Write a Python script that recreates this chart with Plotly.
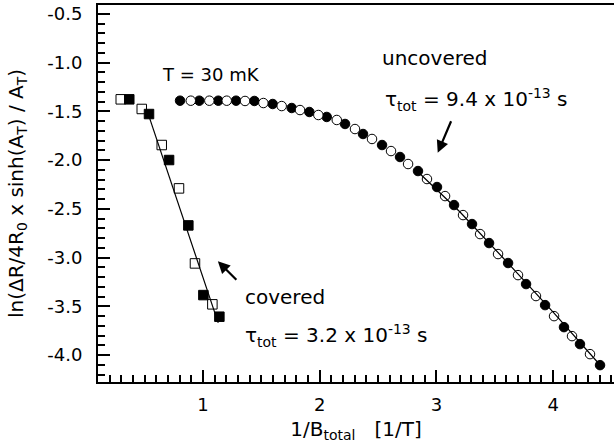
import plotly.graph_objects as go

# --- data ---
unc_filled_x = [0.803, 0.968, 1.131, 1.283, 1.440, 1.597, 1.760, 1.911, 2.060, 2.217, 2.371, 2.534,
                2.688, 2.842, 3.005, 3.151, 3.305, 3.451, 3.614, 3.768, 3.931, 4.093, 4.230, 4.402]
unc_filled_y = [-1.390, -1.390, -1.390, -1.390, -1.393, -1.424, -1.465, -1.506, -1.557, -1.629, -1.732, -1.845,
                -1.968, -2.112, -2.276, -2.461, -2.656, -2.851, -3.056, -3.272, -3.488, -3.714, -3.888, -4.104]
unc_open_x = [0.895, 1.054, 1.203, 1.360, 1.517, 1.674, 1.831, 1.988, 2.146, 2.302, 2.448, 2.611,
              2.757, 2.919, 3.074, 3.228, 3.374, 3.528, 3.699, 3.853, 4.008, 4.162, 4.316]
unc_open_y = [-1.390, -1.390, -1.390, -1.393, -1.414, -1.445, -1.486, -1.537, -1.588, -1.681, -1.783, -1.907,
              -2.040, -2.194, -2.369, -2.564, -2.759, -2.964, -3.180, -3.395, -3.601, -3.806, -3.991]
unc_fit_x = [2.85, 3.2, 3.6, 4.0, 4.40]
unc_fit_y = [-2.13, -2.53, -3.04, -3.56, -4.10]

cov_open_x = [0.295, 0.475, 0.646, 0.794, 0.931, 1.080]
cov_open_y = [-1.376, -1.475, -1.845, -2.290, -3.060, -3.480]
cov_filled_x = [0.368, 0.537, 0.709, 0.874, 1.003, 1.140]
cov_filled_y = [-1.376, -1.527, -1.999, -2.670, -3.385, -3.607]
cov_fit_x = [0.52, 1.13]
cov_fit_y = [-1.49, -3.67]

x_tick_vals = [1, 2, 3, 4]
y_tick_vals = [-0.5, -1.0, -1.5, -2.0, -2.5, -3.0, -3.5, -4.0]
y_tick_text = ["-0.5", "-1.0", "-1.5", "-2.0", "-2.5", "-3.0", "-3.5", "-4.0"]

FONT = "DejaVu Sans"

fig = go.Figure()
fig.add_trace(go.Scatter(x=unc_filled_x, y=unc_filled_y, mode="markers",
                         marker=dict(symbol="circle", size=9.5, color="black",
                                     line=dict(color="black", width=1))))
fig.add_trace(go.Scatter(x=unc_open_x, y=unc_open_y, mode="markers",
                         marker=dict(symbol="circle", size=9.5, color="white",
                                     line=dict(color="black", width=1))))
fig.add_trace(go.Scatter(x=cov_open_x, y=cov_open_y, mode="markers",
                         marker=dict(symbol="square", size=9.5, color="white",
                                     line=dict(color="black", width=1))))
fig.add_trace(go.Scatter(x=cov_filled_x, y=cov_filled_y, mode="markers",
                         marker=dict(symbol="square", size=9.5, color="black",
                                     line=dict(color="black", width=1))))
fig.add_trace(go.Scatter(x=unc_fit_x, y=unc_fit_y, mode="lines",
                         line=dict(color="black", width=1.2)))
fig.add_trace(go.Scatter(x=cov_fit_x, y=cov_fit_y, mode="lines",
                         line=dict(color="black", width=1.2)))

ann = [
    dict(x=0.632, y=-1.126, text="T = 30 mK", size=18),
    dict(x=2.515, y=-0.952, text="uncovered", size=20),
    dict(x=2.54, y=-1.38, text="τ<sub>tot</sub> = 9.4 x 10<sup>-13</sup> s", size=20),
    dict(x=1.343, y=-3.406, text="covered", size=20),
    dict(x=1.343, y=-3.80, text="τ<sub>tot</sub> = 3.2 x 10<sup>-13</sup> s", size=20),
]
for a in ann:
    fig.add_annotation(x=a["x"], y=a["y"], text=a["text"], xref="x", yref="y",
                       showarrow=False, xanchor="left", yanchor="middle",
                       font=dict(family=FONT, size=a["size"], color="black"))

# arrows
fig.add_annotation(x=3.011, y=-1.924, xref="x", yref="y", ax=14, ay=-33, text="",
                   showarrow=True, arrowhead=2, arrowsize=1.1, arrowwidth=2.2, arrowcolor="black")
fig.add_annotation(x=1.127, y=-3.038, xref="x", yref="y", ax=20, ay=20, text="",
                   showarrow=True, arrowhead=2, arrowsize=1.1, arrowwidth=2.2, arrowcolor="black")

fig.update_layout(
    width=614, height=448,
    margin=dict(l=98, r=0, t=5, b=66, autoexpand=False),
    paper_bgcolor="white", plot_bgcolor="white",
    showlegend=False,
    font=dict(family=FONT, size=18, color="black"),
)
fig.update_xaxes(
    range=[0.1, 4.5216], showgrid=False, zeroline=False, automargin=False,
    showline=True, linewidth=2, linecolor="black", mirror=True,
    ticks="inside", ticklen=12, tickwidth=1.5, tickcolor="black",
    tickvals=x_tick_vals, ticktext=[str(v) for v in x_tick_vals],
    tickfont=dict(family=FONT, size=18), ticklabelstandoff=5,
    minor=dict(ticks="inside", ticklen=7, tickwidth=1.5, tickcolor="black", dtick=0.1, showgrid=False),
    title=dict(text="1/B<sub>total</sub>&nbsp;&nbsp;&nbsp;[1/T]", font=dict(family=FONT, size=20), standoff=8),
)
fig.update_yaxes(
    range=[-4.277, -0.408], showgrid=False, zeroline=False, automargin=False,
    showline=True, linewidth=2, linecolor="black", mirror=False,
    ticks="inside", ticklen=12, tickwidth=1.5, tickcolor="black",
    tickvals=y_tick_vals, ticktext=y_tick_text,
    tickfont=dict(family=FONT, size=18), ticklabelstandoff=10,
    minor=dict(ticks="inside", ticklen=7, tickwidth=1.5, tickcolor="black", dtick=0.1, showgrid=False),
    title=dict(text="ln(ΔR/4R<sub>0</sub> x sinh(A<sub>T</sub>) / A<sub>T</sub>)",
               font=dict(family=FONT, size=20), standoff=18),
)

fig.write_html("out.html", config={"displayModeBar": False},
               post_script="document.body.style.margin='0';")
